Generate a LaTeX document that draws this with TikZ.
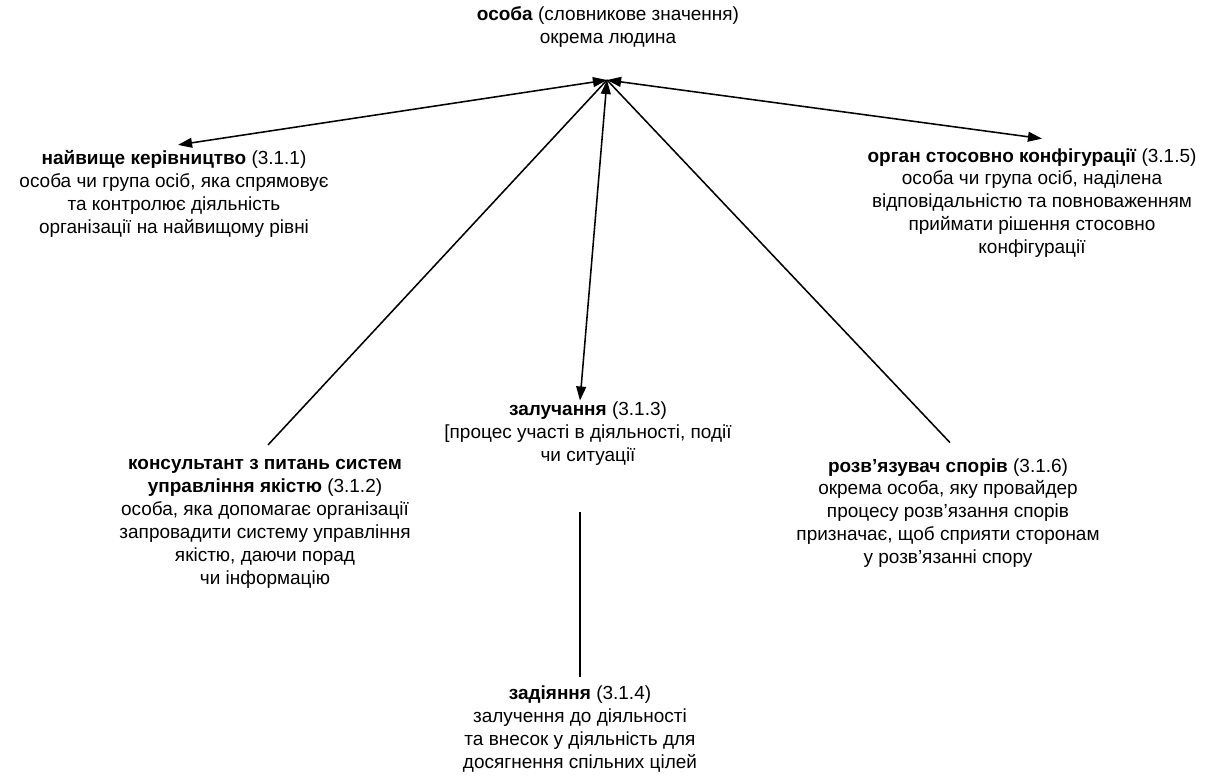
\documentclass[tikz,border=0pt]{standalone}
\usepackage{fontspec}
\setmainfont{Liberation Sans}
\usepackage{tikz}
\usetikzlibrary{arrows.meta}

\begin{document}
\begin{tikzpicture}[x=0.025cm, y=-0.025cm,
        term/.style={align=center, inner sep=1pt, font=\fontsize{13.5}{16.3}\selectfont},
        link/.style={line width=1.1pt},
        both/.style={line width=1.1pt, {Triangle[length=10pt,width=7pt]}-{Triangle[length=10pt,width=7pt]}}]
        \useasboundingbox (0,0) rectangle (1223,778);

        \node[term] (osoba) at (608,27) {\textbf{особа} (словникове значення)\\окрема людина};
        \coordinate (apex) at (607,80);

        \node[term] (kerivn) at (174,194) {\textbf{найвище керівництво} (3.1.1)\\особа чи група осіб, яка спрямовує\\та контролює діяльність\\організації на найвищому рівні};
        \node[term] (orhan) at (1032,203) {\textbf{орган стосовно конфігурації} (3.1.5)\\особа чи група осіб, наділена\\відповідальністю та повноваженням\\приймати рішення стосовно\\конфігурації};
        \node[term] (zaluch) at (588,434) {\textbf{залучання} (3.1.3)\\{[}процес участі в діяльності, події\\чи ситуації};
        \node[term] (konsult) at (265,524) {\textbf{консультант з питань систем}\\\textbf{управління якістю} (3.1.2)\\особа, яка допомагає організації\\запровадити систему управління\\якістю, даючи порад\\чи інформацію};
        \node[term] (rozv) at (948,513) {\textbf{розв’язувач спорів} (3.1.6)\\окрема особа, яку провайдер\\процесу розв’язання спорів\\призначає, щоб сприяти сторонам\\у розв’язанні спору};
        \node[term] (zadiyan) at (580,729) {\textbf{задіяння} (3.1.4)\\залучення до діяльності\\та внесок у діяльність для\\досягнення спільних цілей};

        \draw[both] (kerivn.north) ++(4,-4) coordinate (kerivn-in) (apex) -- (kerivn-in);
        \draw[both] (orhan.north) ++(10,-8) coordinate (orhan-in) (apex) -- (orhan-in);
        \draw[both] (zaluch.north -| zadiyan) coordinate (zaluch-in) (apex) -- (zaluch-in);
        \draw[link] (apex) -- ([shift={(3,-13)}]konsult.north);
        \draw[link] (apex) -- ([shift={(2,-14)}]rozv.north);
        \draw[link, shorten <=32pt, shorten >=5pt] (zaluch.south -| zadiyan) -- (zadiyan.north);
\end{tikzpicture}
\end{document}
